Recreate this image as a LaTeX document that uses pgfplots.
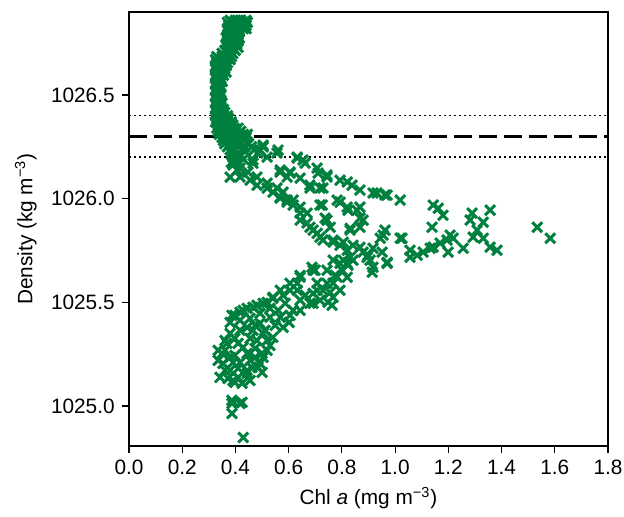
\documentclass[border=0pt]{standalone}
\usepackage{fontspec}
\setmainfont{Liberation Sans}
\usepackage{pgfplots}
\usepackage{pgfplotstable}
\pgfplotsset{compat=1.18}
\definecolor{chlgreen}{RGB}{0,128,62}

% upper column of the profile (above and around the mixed-layer line)
\pgfplotstableread{
x y
0.38 1026.86
0.40 1026.86
0.42 1026.86
0.44 1026.86
0.37 1026.85
0.39 1026.85
0.41 1026.85
0.43 1026.85
0.445 1026.85
0.375 1026.835
0.395 1026.835
0.415 1026.835
0.44 1026.835
0.37 1026.82
0.39 1026.82
0.41 1026.82
0.43 1026.82
0.44 1026.82
0.375 1026.805
0.395 1026.805
0.415 1026.805
0.37 1026.79
0.39 1026.79
0.41 1026.79
0.365 1026.775
0.385 1026.775
0.405 1026.775
0.415 1026.775
0.37 1026.76
0.39 1026.76
0.41 1026.76
0.365 1026.745
0.385 1026.745
0.405 1026.745
0.37 1026.73
0.39 1026.73
0.41 1026.73
0.36 1026.715
0.38 1026.715
0.40 1026.715
0.35 1026.70
0.37 1026.70
0.39 1026.70
0.33 1026.685
0.35 1026.685
0.37 1026.685
0.385 1026.685
0.325 1026.67
0.345 1026.67
0.365 1026.67
0.38 1026.67
0.33 1026.655
0.35 1026.655
0.37 1026.655
0.325 1026.64
0.345 1026.64
0.365 1026.64
0.325 1026.625
0.34 1026.625
0.36 1026.625
0.33 1026.61
0.35 1026.61
0.365 1026.61
0.325 1026.595
0.34 1026.595
0.355 1026.595
0.325 1026.58
0.345 1026.58
0.33 1026.565
0.35 1026.565
0.325 1026.55
0.34 1026.55
0.33 1026.535
0.345 1026.535
0.325 1026.52
0.34 1026.52
0.33 1026.505
0.345 1026.505
0.325 1026.49
0.34 1026.49
0.33 1026.475
0.345 1026.475
0.325 1026.46
0.34 1026.46
0.35 1026.46
0.33 1026.445
0.345 1026.445
0.325 1026.43
0.34 1026.43
0.355 1026.43
0.33 1026.415
0.345 1026.415
0.36 1026.415
0.325 1026.40
0.34 1026.40
0.355 1026.40
0.37 1026.40
0.33 1026.385
0.345 1026.385
0.36 1026.385
0.375 1026.385
0.325 1026.37
0.34 1026.37
0.355 1026.37
0.37 1026.37
0.385 1026.37
0.335 1026.355
0.35 1026.355
0.365 1026.355
0.38 1026.355
0.39 1026.355
0.33 1026.34
0.345 1026.34
0.36 1026.34
0.375 1026.34
0.395 1026.34
0.41 1026.34
0.335 1026.325
0.35 1026.325
0.365 1026.325
0.38 1026.325
0.40 1026.325
0.42 1026.325
0.34 1026.31
0.355 1026.31
0.37 1026.31
0.39 1026.31
0.41 1026.31
0.43 1026.31
0.445 1026.31
0.35 1026.295
0.365 1026.295
0.38 1026.295
0.40 1026.295
0.42 1026.295
0.44 1026.295
0.355 1026.28
0.37 1026.28
0.39 1026.28
0.41 1026.28
0.43 1026.28
0.36 1026.265
0.38 1026.265
0.40 1026.265
0.42 1026.265
0.45 1026.265
0.37 1026.25
0.39 1026.25
0.41 1026.25
0.435 1026.25
0.46 1026.25
0.38 1026.235
0.40 1026.235
0.43 1026.235
0.47 1026.235
0.385 1026.22
0.41 1026.22
0.39 1026.205
0.42 1026.205
0.40 1026.19
0.43 1026.19
0.385 1026.175
0.41 1026.175
}\column

% fan of points below the line and the lower profile
\pgfplotstableread{
x y
0.504 1026.258
0.560 1026.234
0.492 1026.234
0.466 1026.186
0.519 1026.200
0.632 1026.196
0.662 1026.171
0.707 1026.147
0.744 1026.104
0.793 1026.089
0.838 1026.065
0.868 1026.041
0.917 1026.027
0.962 1026.017
1.019 1025.993
0.568 1026.128
0.605 1026.123
0.643 1026.099
0.680 1026.051
0.729 1026.051
0.782 1025.993
0.718 1025.969
0.820 1025.959
0.857 1025.944
0.868 1025.906
0.831 1025.857
0.962 1025.848
1.019 1025.809
0.744 1025.896
0.391 1026.171
0.417 1026.104
0.455 1026.089
0.481 1026.065
0.519 1026.051
0.541 1026.031
0.568 1026.007
0.594 1025.983
0.617 1025.969
0.643 1025.930
0.669 1025.882
0.692 1025.848
0.718 1025.814
0.767 1025.800
0.793 1025.775
0.380 1026.104
0.406 1026.138
0.970 1026.017
0.932 1026.027
0.820 1026.080
0.744 1026.114
0.711 1026.123
1.143 1025.969
1.162 1025.954
1.180 1025.920
1.139 1025.862
1.289 1025.930
1.357 1025.944
1.331 1025.886
1.282 1025.896
1.308 1025.848
1.293 1025.814
1.331 1025.809
1.357 1025.766
1.383 1025.751
1.256 1025.761
1.207 1025.824
1.218 1025.809
1.195 1025.800
1.169 1025.785
1.199 1025.742
1.143 1025.766
1.132 1025.761
1.105 1025.742
1.083 1025.727
1.056 1025.717
1.056 1025.751
1.026 1025.809
1.534 1025.862
1.583 1025.809
0.955 1025.824
0.951 1025.742
0.970 1025.693
0.914 1025.645
0.906 1025.703
0.880 1025.742
0.895 1025.717
0.842 1025.775
0.831 1025.717
0.805 1025.703
0.793 1025.688
0.823 1025.679
0.801 1025.655
0.782 1025.621
0.767 1025.592
0.756 1025.548
0.748 1025.500
0.774 1025.630
0.744 1025.655
0.699 1025.655
0.688 1025.669
0.643 1025.630
0.632 1025.592
0.605 1025.558
0.579 1025.534
0.541 1025.519
0.519 1025.500
0.481 1025.486
0.444 1025.471
0.417 1025.452
0.387 1025.437
0.707 1025.592
0.692 1025.543
0.680 1025.495
0.718 1025.510
0.729 1025.558
0.767 1025.703
0.820 1025.751
0.868 1025.766
0.917 1025.761
0.944 1025.809
0.729 1025.800
0.707 1025.833
0.680 1025.862
0.643 1025.896
0.756 1025.862
0.737 1025.906
0.767 1025.790
0.805 1025.790
0.831 1025.848
0.868 1025.862
0.880 1025.896
0.823 1025.944
0.868 1025.959
0.793 1025.983
0.726 1025.969
0.718 1026.051
0.680 1026.065
0.605 1026.128
0.568 1026.138
0.632 1026.200
0.654 1026.186
0.594 1026.104
0.643 1025.959
0.617 1025.993
0.579 1026.031
0.556 1026.051
0.519 1026.075
0.481 1026.104
0.447 1026.128
0.417 1026.147
0.391 1026.162
0.669 1025.930
0.594 1025.993
0.568 1026.002
0.556 1026.220
0.485 1026.220
0.466 1026.171
0.504 1026.249
0.429 1024.848
0.387 1024.964
0.387 1025.012
0.417 1025.012
0.342 1025.138
0.398 1025.114
0.410 1025.138
0.353 1025.205
0.350 1025.254
0.380 1025.234
0.444 1025.172
0.455 1025.220
0.492 1025.205
0.500 1025.254
0.429 1025.283
0.519 1025.316
0.504 1025.350
0.492 1025.399
0.380 1025.350
0.380 1025.403
0.398 1025.437
0.429 1025.461
0.466 1025.476
0.504 1025.495
0.541 1025.524
0.568 1025.558
0.605 1025.592
0.643 1025.621
0.692 1025.655
0.568 1025.428
0.617 1025.461
0.643 1025.510
0.632 1025.558
0.692 1025.495
0.707 1025.558
0.744 1025.592
0.767 1025.524
0.763 1025.486
0.793 1025.558
0.820 1025.621
0.820 1025.688
0.842 1025.703
0.898 1025.727
0.917 1025.669
0.970 1025.688
0.519 1025.268
0.444 1025.254
0.410 1025.302
0.368 1025.302
0.466 1025.365
0.444 1025.379
0.530 1025.428
0.579 1025.379
0.391 1025.123
0.425 1025.109
0.444 1025.157
0.485 1025.186
0.504 1025.234
0.481 1025.316
0.387 1025.027
0.425 1025.017
0.391 1025.210
0.380 1025.172
0.361 1025.316
0.398 1025.326
0.455 1025.326
0.541 1025.331
0.530 1025.292
0.474 1025.278
0.361 1025.268
0.398 1025.244
0.474 1025.234
0.417 1025.210
0.462 1025.186
0.361 1025.172
0.410 1025.181
0.500 1025.162
0.372 1025.133
0.455 1025.123
0.335 1025.220
0.335 1025.268
0.417 1025.413
0.455 1025.423
0.492 1025.447
0.530 1025.471
0.587 1025.495
0.605 1025.437
0.549 1025.389
0.511 1025.365
0.643 1025.461
0.662 1025.534
0.602 1025.403
0.560 1025.461
0.474 1025.389
0.417 1025.365
}\fan

\begin{document}
\fontsize{10.4}{12.5}\selectfont
\begin{tikzpicture}
% page = reference frame: axis box sits at (0,0)-(239.5pt,217pt)
\useasboundingbox (-64.5pt,-35.5pt) rectangle (247.5pt,223pt);
\begin{axis}[
    name=ax,
    at={(0,0)}, anchor=south west,
    width=239.5pt, height=217pt,
    scale only axis,
    xmin=0, xmax=1.8,
    ymin=1024.807, ymax=1026.90,
    xtick={0,0.2,...,1.8},
    ytick={1025,1025.5,1026,1026.5},
    xticklabel style={/pgf/number format/.cd, fixed, fixed zerofill, precision=1},
    yticklabel style={/pgf/number format/.cd, fixed, fixed zerofill, precision=1, 1000 sep={}},
    /pgf/number format/assume math mode=true,
    tick align=outside,
    tick pos=left,
    major tick length=3.5pt,
    every tick/.style={black, line width=0.6pt},
    axis line style={line width=0.75pt},
    xlabel={Chl \textit{a} (mg m\textsuperscript{−3})},
    ylabel={Density (kg m\textsuperscript{−3})},
    xlabel style={yshift=1pt},
    tick label style={font=\fontsize{10.4}{12.5}\selectfont},
    label style={font=\fontsize{10.4}{12.5}\selectfont},
    clip=true,
]
\addplot[only marks, mark=x, mark size=3.5pt, color=chlgreen,
    mark options={line width=1.5pt}] table {\column};
\addplot[only marks, mark=x, mark size=3.5pt, color=chlgreen,
    mark options={line width=1.5pt}] table {\fan};
\addplot[black, line width=0.7pt, dash pattern=on 0.8pt off 1.7pt] coordinates {(0,1026.4) (1.8,1026.4)};
\addplot[black, line width=0.7pt, dash pattern=on 0.8pt off 1.7pt] coordinates {(0,1026.2) (1.8,1026.2)};
\addplot[black, line width=1.3pt, dash pattern=on 9pt off 3.5pt] coordinates {(0,1026.3) (1.8,1026.3)};
\end{axis}
\end{tikzpicture}
\end{document}
